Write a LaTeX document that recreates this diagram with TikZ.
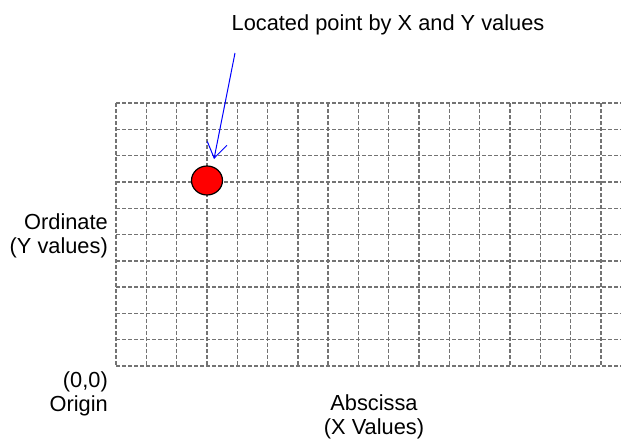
\documentclass[tikz,border=0pt]{standalone}
\usepackage{fontspec}
\setmainfont{Liberation Sans}
\usetikzlibrary{arrows.meta,shapes.geometric}
\begin{document}
\begin{tikzpicture}[x=1pt,y=-1pt,
  gridline/.style={draw=gray!90!black,line width=1.4pt,dash pattern=on 4pt off 2pt},
  lbl/.style={font=\fontsize{21.8}{23.5}\selectfont,inner sep=0pt},
  pointmark/.style={ellipse,draw=black,line width=1.2pt,fill=red,minimum width=31pt,minimum height=29pt,inner sep=0pt},
  pointer/.style={draw=blue,line width=1pt,-{Straight Barb[length=15pt,width=20pt,line width=1pt]}}]
\useasboundingbox (0,0) rectangle (621,442);
% grid
\foreach \j in {0,...,10}
  \draw[gridline] (116,{103+\j*26.3}) -- (621,{103+\j*26.3});
\foreach \k in {0,...,16}
  \draw[gridline] ({116+\k*30.31},103) -- ({116+\k*30.31},366);
% texts
\node[lbl] (title) at (388,25) {Located point by X and Y values};
\node[lbl,align=right,anchor=east] (ord) at (108,236) {Ordinate\\(Y values)};
\node[lbl,align=right,anchor=east] (orig) at (108,394) {(0,0)\\Origin};
\node[lbl,align=center] (absc) at (374,417) {Abscissa\\(X Values)};
% point
\node[pointmark] (pt) at (207,180.5) {};
\coordinate (astart) at (235,53);
\coordinate (atip) at (214,159);
\draw[pointer] (astart) -- (atip);
\end{tikzpicture}
\end{document}
